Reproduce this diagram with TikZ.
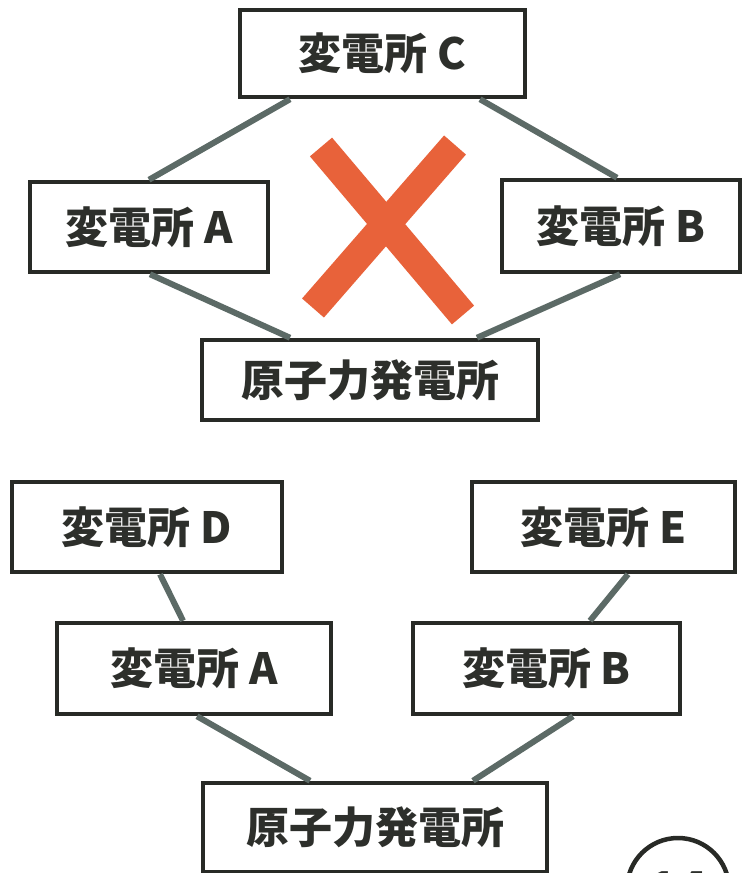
\documentclass[tikz,border=0pt]{standalone}
\usepackage{fontspec}
\setmainfont{Noto Sans CJK JP}
\begin{document}
\begin{tikzpicture}[x=1pt,y=-1pt,
  box/.style={draw=boxc, line width=4.5pt, fill=white, rectangle, inner sep=0pt,
    font=\fontsize{43}{47}\selectfont\bfseries, text=txtc},
  link/.style={draw=linkc, line width=6pt},
  crossbar/.style={draw=crossc, line width=29pt}]
\definecolor{boxc}{RGB}{40,42,38}
\definecolor{txtc}{RGB}{45,47,43}
\definecolor{linkc}{RGB}{92,106,102}
\definecolor{crossc}{RGB}{232,98,58}
\fill[white] (0,0) rectangle (747,873);
\useasboundingbox (0,0) rectangle (747,873);
\begin{scope}
\clip (0,0) rectangle (747,873);
% cross
\draw[crossbar] (321,147) -- (463,315);
\draw[crossbar] (455,145) -- (313,308);
% top group
\node[box, minimum width=285pt, minimum height=87pt] (C) at (382.5,53.5) {\raisebox{4pt}{変電所 C}};
\node[box, minimum width=238pt, minimum height=90pt] (A1) at (149,227) {変電所 A};
\node[box, minimum width=238pt, minimum height=92pt] (B1) at (621,226) {変電所 B};
\node[box, minimum width=336pt, minimum height=80pt] (N1) at (370,380) {原子力発電所};
% bottom group
\node[box, minimum width=270pt, minimum height=90pt] (D) at (147,527) {変電所 D};
\node[box, minimum width=263pt, minimum height=90pt] (E) at (603.5,527) {変電所 E};
\node[box, minimum width=274pt, minimum height=91pt] (A2) at (194,668.5) {変電所 A};
\node[box, minimum width=267pt, minimum height=91pt] (B2) at (546.5,668.5) {変電所 B};
\node[box, minimum width=344pt, minimum height=89pt] (N2) at (375,827.5) {原子力発電所};
% connectors
\draw[link] ([xshift=-92.5pt]C.south) -- ([xshift=0pt]A1.north);
\draw[link] ([xshift=97.5pt]C.south) -- ([xshift=-4pt]B1.north);
\draw[link] ([xshift=1pt]A1.south) -- ([xshift=-80pt]N1.north);
\draw[link] ([xshift=-1pt]B1.south) -- ([xshift=107pt]N1.north);
\draw[link] ([xshift=13pt]D.south) -- ([xshift=-11pt]A2.north);
\draw[link] ([xshift=24.5pt]E.south) -- ([xshift=43.5pt]B2.north);
\draw[link] ([xshift=3pt]A2.south) -- ([xshift=-65pt]N2.north);
\draw[link] ([xshift=26.5pt]B2.south) -- ([xshift=98pt]N2.north);
% page number circle
\node[circle, draw=boxc, line width=4.5pt, minimum size=102pt, inner sep=0pt,
  font=\fontsize{48}{52}\selectfont\bfseries, text=txtc] (pg) at (678,889) {14};
\end{scope}
\end{tikzpicture}
\end{document}
